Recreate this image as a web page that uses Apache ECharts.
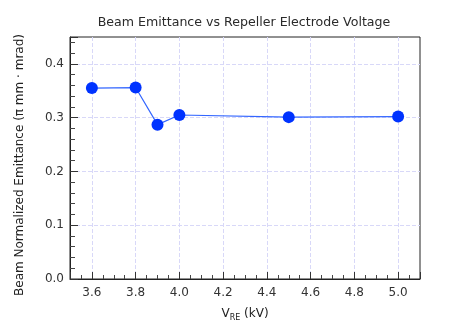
<!DOCTYPE html>
<html>
<head>
<meta charset="utf-8">
<script src="https://cdn.jsdelivr.net/npm/echarts@6/dist/echarts.min.js"></script>
<style>html,body{margin:0;padding:0;background:#fff}#c{width:460px;height:333px}</style>
</head>
<body>
<div id="c"></div>
<script>
var voltages = [3.6, 3.8, 3.9, 4.0, 4.5, 5.0];
var emittance = [0.355, 0.356, 0.287, 0.305, 0.301, 0.302];
var titleText = 'Beam Emittance vs Repeller Electrode Voltage';
var yName = 'Beam Normalized Emittance (π mm · mrad)';

var FONT = '"DejaVu Sans", sans-serif';
var points = voltages.map(function (v, i) { return [v, emittance[i]]; });

var chart = echarts.init(document.getElementById('c'), null, {renderer: 'canvas'});
chart.setOption({
  animation: false,
  backgroundColor: '#fff',
  textStyle: {fontFamily: FONT},
  title: {
    text: titleText,
    left: 239, top: 11, textAlign: 'center',
    textStyle: {fontFamily: FONT, fontSize: 12.6, fontWeight: 'normal', color: '#2a2a2a'}
  },
  grid: {left: 70, right: 40, top: 37, bottom: 54, show: true, borderColor: '#222', borderWidth: 1, backgroundColor: 'transparent'},
  xAxis: {
    type: 'value', min: 3.5, max: 5.1, splitNumber: 8,
    name: '{v|V}{s|RE}{v| (kV)}', nameLocation: 'middle', nameGap: 27,
    nameTextStyle: {rich: {v: {fontFamily: FONT, fontSize: 12, color: '#222'}, s: {fontFamily: FONT, fontSize: 8, color: '#222', verticalAlign: 'bottom', padding: [8, 0, 0, 0]}}},
    axisLine: {show: true, lineStyle: {color: '#222', width: 1}},
    axisTick: {show: true, inside: true, length: 7, lineStyle: {color: '#333'}},
    minorTick: {show: true, splitNumber: 4, length: 4, lineStyle: {color: '#444'}},
    axisLabel: {margin: 8, fontSize: 12, color: '#333', fontFamily: FONT, showMinLabel: false, showMaxLabel: false,
      formatter: function (v) { return v.toFixed(1); }},
    splitLine: {show: true, showMinLine: false, showMaxLine: false, lineStyle: {color: '#d8d8f8', type: [4, 2], width: 1}}
  },
  yAxis: {
    type: 'value', min: 0, max: 0.45, interval: 0.1,
    name: yName, nameLocation: 'middle', nameGap: 44, nameRotate: 90,
    nameTextStyle: {fontFamily: FONT, fontSize: 12, color: '#222', padding: [0, 14, 0, 0]},
    axisLine: {show: true, lineStyle: {color: '#222', width: 1}},
    axisTick: {show: true, inside: true, length: 8, lineStyle: {color: '#333'}},
    minorTick: {show: true, splitNumber: 5, length: 5, lineStyle: {color: '#444'}},
    axisLabel: {margin: 6, fontSize: 12, color: '#333', fontFamily: FONT, showMaxLabel: false,
      formatter: function (v) { return v.toFixed(1); }},
    splitLine: {show: true, showMinLine: false, showMaxLine: false, lineStyle: {color: '#d8d8f8', type: [4, 2], width: 1}}
  },
  series: [{
    type: 'line',
    data: points,
    symbol: 'circle', symbolSize: 12,
    itemStyle: {color: '#0033ff'},
    lineStyle: {color: '#3366ff', width: 1.2}
  }]
});
</script>
</body>
</html>
